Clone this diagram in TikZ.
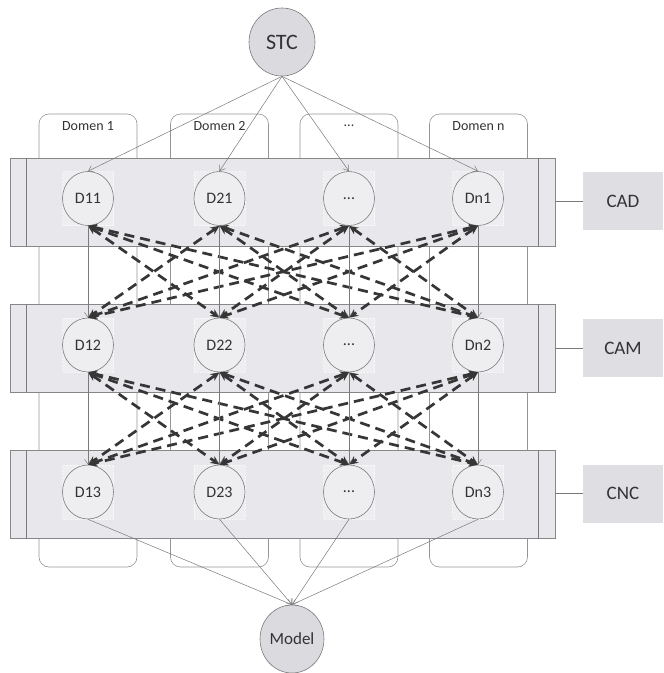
\documentclass[tikz,border=0pt]{standalone}
\usepackage{fontspec}
\setmainfont{Carlito}
\usetikzlibrary{arrows.meta,shapes.geometric}

\definecolor{inkgray}{HTML}{333333}
\definecolor{edgegray}{HTML}{7A7A7A}
\definecolor{bandfill}{HTML}{E7E7EC}
\definecolor{bubblefill}{HTML}{DADADF}
\definecolor{sidefill}{HTML}{DEDEE3}
\definecolor{dashink}{HTML}{363636}

\tikzset{
  domainbox/.style={draw=edgegray!80, line width=0.6pt, rounded corners=10pt, fill=white,
    minimum width=98pt, minimum height=453pt, inner sep=0pt},
  domlabel/.style={text=inkgray, font=\fontsize{14}{16}\selectfont, inner sep=0pt},
  bandbox/.style={draw=edgegray!90, line width=0.6pt, fill=bandfill,
    minimum width=545pt, minimum height=88pt, inner sep=0pt},
  sidebox/.style={fill=sidefill, minimum width=80pt, minimum height=58pt, inner sep=0pt,
    text=inkgray, font=\fontsize{19}{21}\selectfont},
  halo/.style={fill=white, fill opacity=0.3, draw=white, draw opacity=0.6, densely dotted,
    line width=0.4pt, minimum width=51pt, minimum height=54pt, inner sep=0pt},
  dnode/.style={ellipse, draw=edgegray, line width=0.6pt, minimum width=51pt, minimum height=54pt,
    inner sep=0pt, text=inkgray, font=\fontsize{16}{18}\selectfont},
  bubble/.style={ellipse, draw=edgegray, line width=0.6pt, fill=bubblefill, inner sep=0pt,
    text=inkgray},
  thinarrow/.style={draw=edgegray, line width=0.5pt, -{Straight Barb[length=5pt,width=7pt]}},
  thinline/.style={draw=edgegray, line width=0.5pt},
  dasharrow/.style={draw=dashink, line width=2.7pt, dash pattern=on 10pt off 6pt,
    {Stealth[length=9pt,width=8pt]}-{Stealth[length=9pt,width=8pt]}},
}

\begin{document}
\begin{tikzpicture}[x=1pt,y=-1pt]
\useasboundingbox (0,0) rectangle (664,673);

% domain columns
\node[domainbox] (dom1) at (88,340.5) {};
\node[domainbox] (dom2) at (219.5,340.5) {};
\node[domainbox] (dom3) at (349,340.5) {};
\node[domainbox] (dom4) at (478.5,340.5) {};
\node[domlabel] (lab1) at ([yshift=-12pt]dom1.north) {Domen 1};
\node[domlabel] (lab2) at ([yshift=-12pt]dom2.north) {Domen 2};
\node[domlabel] (lab3) at ([yshift=-12pt]dom3.north) {...};
\node[domlabel] (lab4) at ([yshift=-12pt]dom4.north) {Domen n};

% level bands
\foreach \b/\y in {1/202,2/348.5,3/494.5}{
  \node[bandbox] (band\b) at (282.5,\y) {};
  \draw[thinline] ([xshift=17pt]band\b.north west) -- ([xshift=17pt]band\b.south west);
  \draw[thinline] ([xshift=-17pt]band\b.north east) -- ([xshift=-17pt]band\b.south east);
}

% side labels
\node[sidebox] (cad) at (623,201) {CAD};
\node[sidebox] (cam) at (623,348) {CAM};
\node[sidebox] (cnc) at (623,493.5) {CNC};
\draw[thinline] (band1.east |- cad.west) -- (cad.west);
\draw[thinline] (band2.east |- cam.west) -- (cam.west);
\draw[thinline] (band3.east |- cnc.west) -- (cnc.west);

% faint squares behind the domain nodes
\foreach \x in {88,219.5,349,478}{
  \foreach \y in {198.5,345,492}{
    \node[halo] at (\x,\y) {};
  }
}

% domain nodes
\node[dnode] (d-1-1) at (88,198.5) {D11};
\node[dnode] (d-2-1) at (219.5,198.5) {D21};
\node[dnode] (d-3-1) at (349,198.5) {...};
\node[dnode] (d-4-1) at (478,198.5) {Dn1};
\node[dnode] (d-1-2) at (88,345) {D12};
\node[dnode] (d-2-2) at (219.5,345) {D22};
\node[dnode] (d-3-2) at (349,345) {...};
\node[dnode] (d-4-2) at (478,345) {Dn2};
\node[dnode] (d-1-3) at (88,492) {D13};
\node[dnode] (d-2-3) at (219.5,492) {D23};
\node[dnode] (d-3-3) at (349,492) {...};
\node[dnode] (d-4-3) at (478,492) {Dn3};

% source and sink
\node[bubble, minimum width=66pt, minimum height=68pt, font=\fontsize{22}{24}\selectfont] (stc) at (282,42) {STC};
\node[bubble, minimum width=64pt, minimum height=68pt, font=\fontsize{17}{19}\selectfont] (model) at (292,639) {Model};

% cross-domain exchange between levels
\foreach \r/\s in {1/2,2/3}{
  \foreach \i in {1,...,4}{
    \foreach \j in {1,...,4}{
      \ifnum\i=\j\relax\else
        \draw[dasharrow] (d-\i-\r.south) -- (d-\j-\s.north);
      \fi
    }
  }
}

% flow inside each domain
\foreach \i in {1,...,4}{
  \draw[thinarrow] (stc.south) -- (d-\i-1.north);
  \draw[thinarrow] (d-\i-1.south) -- (d-\i-2.north);
  \draw[thinarrow] (d-\i-2.south) -- (d-\i-3.north);
  \draw[thinarrow] (d-\i-3.south) -- (model.north);
}
\end{tikzpicture}
\end{document}
